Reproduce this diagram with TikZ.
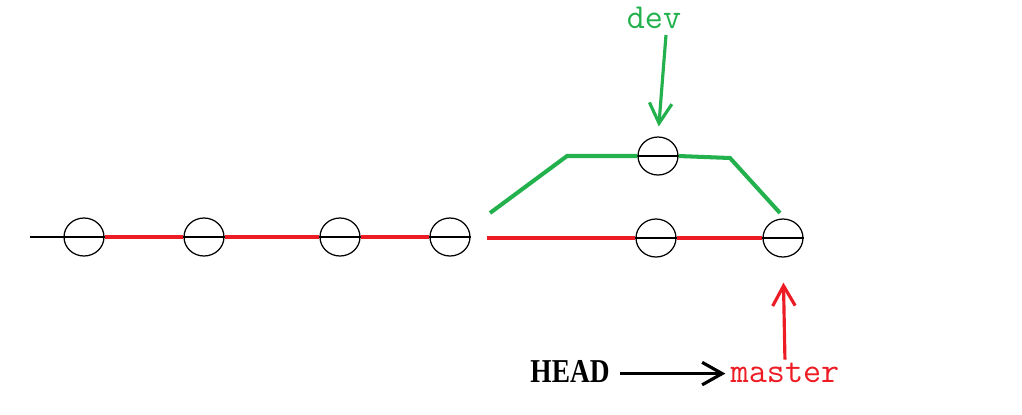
\documentclass[tikz,border=0pt]{standalone}
\usepackage{fontspec}
\setmainfont{Liberation Serif}
\usetikzlibrary{shapes.geometric, arrows.meta, positioning}
\definecolor{cRed}{RGB}{237,28,36}
\definecolor{cGreen}{RGB}{34,177,76}
\tikzset{
	commit/.style={ellipse, draw=black, line width=0.7pt, minimum width=0.8cm, minimum height=0.76cm, inner sep=0pt},
	redline/.style={draw=cRed, line width=2.3pt},
	greenline/.style={draw=cGreen, line width=2.3pt},
	ptr/.style={-{Straight Barb[length=4mm, width=4.5mm]}, line width=1.8pt},
	reflabel/.style={font=\ttfamily\fontsize{20}{20}\selectfont, inner sep=0pt, anchor=base},
}
\begin{document}
\begin{tikzpicture}[x=0.02cm, y=-0.02cm]
	\useasboundingbox (0,0) rectangle (1022,414);
	% commits on master
	\node[commit] (c1) at (84,237) {};
	\node[commit] (c2) at (204,237) {};
	\node[commit] (c3) at (340,237) {};
	\node[commit] (c4) at (450,237) {};
	\node[commit] (c5) at (656,238) {};
	\node[commit] (c6) at (783,238) {};
	% commit on dev
	\node[commit] (d1) at (658,156) {};
	\coordinate (start) at (30,237);
	\coordinate (gap) at (487,238);
	\coordinate (g0) at (490,213);
	\coordinate (g1) at (567,156);
	\coordinate (g2) at (730,158);
	\coordinate (g3) at (780,213);
	\coordinate (devtail) at (666,35);
	% diameters
	\foreach \c in {c1,c2,c3,c4,c5,c6,d1}
		\draw[line width=0.7pt] (\c.west) -- (\c.east);
	\draw[line width=0.7pt] (start) -- (c1.west);
	\draw[redline] (c1.east) -- (c2.west);
	\draw[redline] (c2.east) -- (c3.west);
	\draw[redline] (c3.east) -- (c4.west);
	\draw[redline] (gap) -- (c5.west);
	\draw[redline] (c5.east) -- (c6.west);
	\draw[greenline] (g0) -- (g1) -- (d1.west);
	\draw[greenline] (d1.east) -- (g2) -- (g3);
	% branch labels
	\node[reflabel, text=cGreen] (dev) at (654,28) {dev};
	\node[reflabel, text=cRed] (master) at (785,382) {master};
	\node[inner sep=0pt, anchor=base, font=\bfseries\fontsize{19}{19}\selectfont, xscale=0.82] (head) at (570,382) {HEAD};
	\draw[ptr, cGreen, shorten >=0.2cm] (devtail) -- (d1.north);
	\draw[ptr, cRed, shorten >=0.5cm, shorten <=0.05cm] (master.north) -- (c6.south);
	\draw[ptr, shorten <=0.2cm, shorten >=0.1cm] ([yshift=2.5pt]head.mid east) -- ([yshift=2.5pt]master.mid west);
\end{tikzpicture}
\end{document}
